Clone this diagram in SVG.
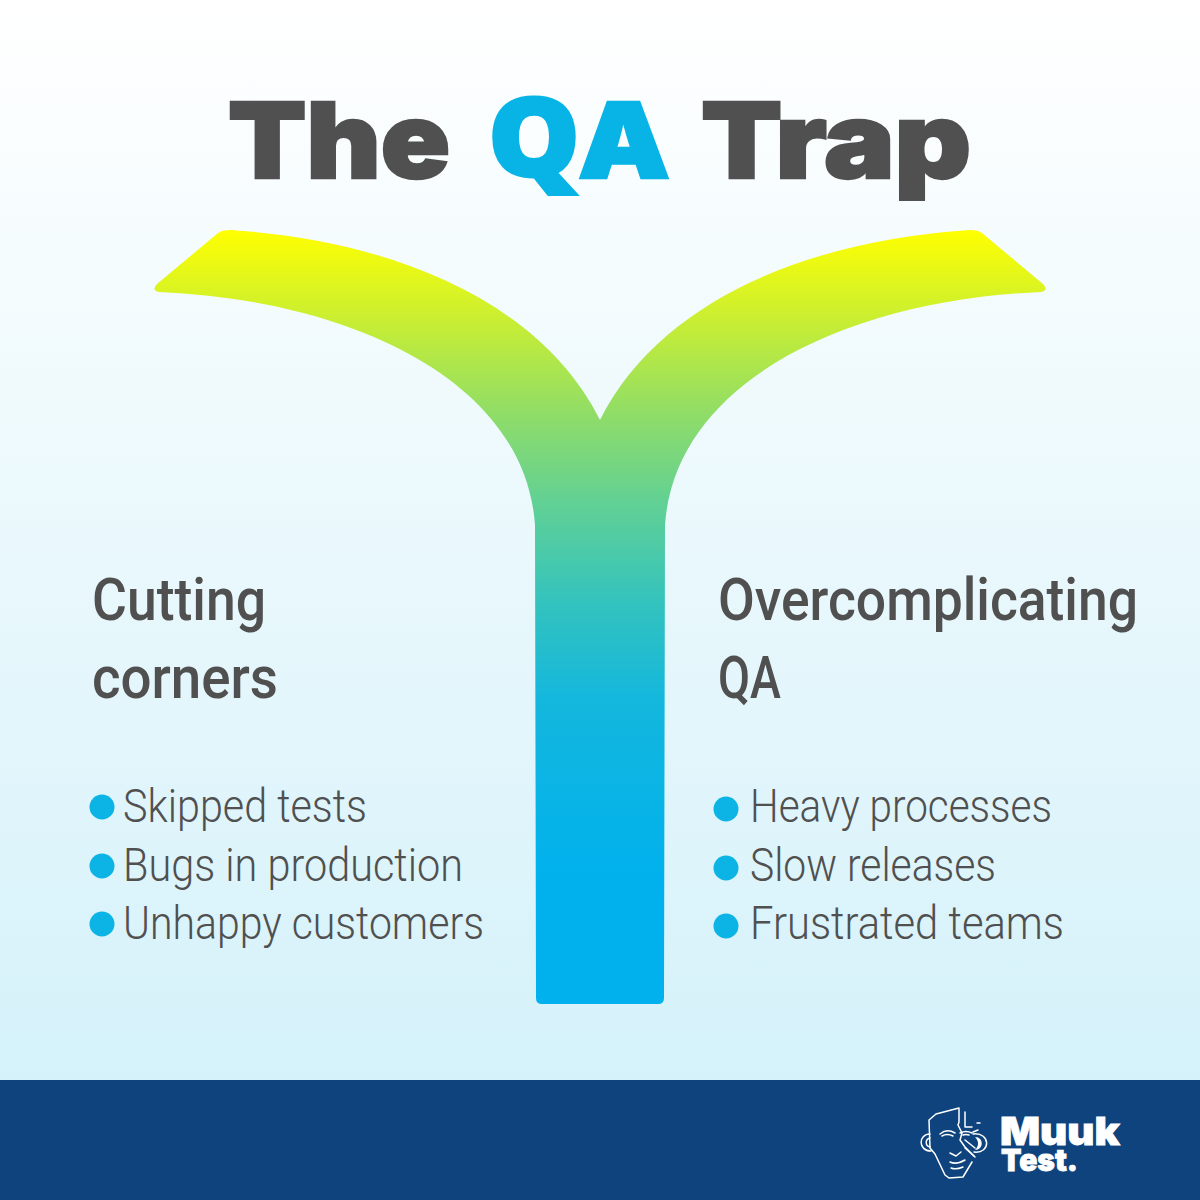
<svg xmlns="http://www.w3.org/2000/svg" width="1200" height="1200" viewBox="0 0 1200 1200">
<defs>
<linearGradient id="bg" x1="0" y1="0" x2="0" y2="1"><stop offset="0" stop-color="#ffffff"/><stop offset="1" stop-color="#d0f0f9"/></linearGradient>
<linearGradient id="y" gradientUnits="userSpaceOnUse" x1="0" y1="230" x2="0" y2="880"><stop offset="0" stop-color="#ffff00"/><stop offset="0.29" stop-color="#8ddc6a"/><stop offset="0.415" stop-color="#63d193"/><stop offset="0.57" stop-color="#34c3bd"/><stop offset="0.72" stop-color="#14b7dd"/><stop offset="1" stop-color="#00b1ed"/></linearGradient>
<style>
.title{font-family:"Inter","Liberation Sans",sans-serif;font-weight:900;font-size:105px;stroke-width:2.500px;stroke-linejoin:miter}
.q{font-family:"Open Sans","Liberation Sans",sans-serif;font-weight:800;font-size:108px;stroke-width:3px}
.h{font-family:"Roboto","Liberation Sans",sans-serif;font-weight:500;font-size:60px;fill:#505050}
.b{font-family:"Roboto","Liberation Sans",sans-serif;font-weight:300;font-size:46px;fill:#505050}
.d{fill:#0cb4e6}
.lg{fill:none;stroke:#fff;stroke-width:1.500;stroke-linecap:round;stroke-linejoin:round}
.m{font-family:"Inter","Liberation Sans",sans-serif;font-weight:900;fill:#fff;stroke:#fff;stroke-width:0.800}
</style>
</defs>
<rect id="background" width="1200" height="1200" fill="url(#bg)"/>
<g id="title">
<text class="title" x="228" y="178" textLength="222" lengthAdjust="spacingAndGlyphs" fill="#505050" stroke="#505050">The</text>
<text class="q" x="488" y="176" textLength="92" lengthAdjust="spacingAndGlyphs" fill="#08b4e6" stroke="#08b4e6">Q</text>
<text class="title" x="578" y="178" textLength="92" lengthAdjust="spacingAndGlyphs" fill="#08b4e6" stroke="#08b4e6">A</text>
<text class="title" x="701" y="178" textLength="270" lengthAdjust="spacingAndGlyphs" fill="#505050" stroke="#505050">Trap</text>
</g>
<g id="fork">
<path fill="url(#y)" d="M218 233Q222 230 230 230C390 240 540 300 600 420C660 300 810 240 970 230Q978 230 982 233L1043 284Q1049 290 1041 292C850 300 675 380 665 525L664 998Q664 1004 658 1004L542 1004Q536 1004 536 998L535 525C525 380 350 300 159 292Q151 290 157 284Z"/>
</g>
<g id="left-branch">
<text class="h" x="92" y="620" textLength="174" lengthAdjust="spacingAndGlyphs">Cutting</text>
<text class="h" x="92" y="698" textLength="186" lengthAdjust="spacingAndGlyphs">corners</text>
<circle class="d" cx="102" cy="807" r="12.500"/>
<text class="b" x="123" y="822" textLength="244" lengthAdjust="spacingAndGlyphs">Skipped tests</text>
<circle class="d" cx="102" cy="866" r="12.500"/>
<text class="b" x="123" y="881" textLength="340" lengthAdjust="spacingAndGlyphs">Bugs in production</text>
<circle class="d" cx="102" cy="924" r="12.500"/>
<text class="b" x="123" y="939" textLength="361" lengthAdjust="spacingAndGlyphs">Unhappy customers</text>
</g>
<g id="right-branch">
<text class="h" x="718" y="620" textLength="420" lengthAdjust="spacingAndGlyphs">Overcomplicating</text>
<text class="h" x="718" y="698" textLength="63" lengthAdjust="spacingAndGlyphs">QA</text>
<circle class="d" cx="726" cy="809" r="12.500"/>
<text class="b" x="750" y="822" textLength="302" lengthAdjust="spacingAndGlyphs">Heavy processes</text>
<circle class="d" cx="726" cy="868" r="12.500"/>
<text class="b" x="750" y="881" textLength="246" lengthAdjust="spacingAndGlyphs">Slow releases</text>
<circle class="d" cx="726" cy="926" r="12.500"/>
<text class="b" x="750" y="939" textLength="314" lengthAdjust="spacingAndGlyphs">Frustrated teams</text>
</g>
<g id="footer">
<rect x="0" y="1080" width="1200" height="120" fill="#0f437d"/>
<g id="logo">
<path class="lg" d="M959 1108L936 1114L929 1120L930 1148L935 1154L945 1175L949 1178L963 1177L972 1162M959 1108V1122L958 1125L962 1133L960 1140L965 1147L974 1156"/>
<path class="lg" d="M930 1134C918 1134 918 1151 931 1151M930 1138C925 1139 925 1146 930 1147M973 1134C991 1132 991 1154 974 1152"/>
<path fill="#fff" d="M975 1137C984 1137 984 1150 975 1150C979 1146 979 1141 975 1137Z"/>
<path class="lg" d="M940 1134Q947 1128 955 1133M942 1136Q947 1133 953 1136M960 1133Q966 1130 972 1133M963 1135Q966 1134 969 1135M950 1153L956 1156L961 1152M950 1162Q956 1165 965 1160M951 1168Q956 1170 963 1167M965 1140L975 1148M965 1148L975 1157M965 1112V1127H972M977 1123H980M973 1132L978 1130"/>
<text class="m" font-size="39"><tspan x="1000" y="1145" textLength="120" lengthAdjust="spacingAndGlyphs">Muuk</tspan><tspan x="1001" y="1171" font-size="30" textLength="77" lengthAdjust="spacingAndGlyphs">Test.</tspan></text>
</g>
</g>
</svg>
